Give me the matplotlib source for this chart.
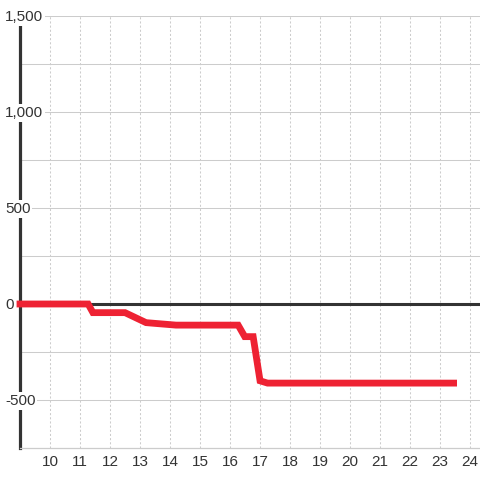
import matplotlib
matplotlib.use("Agg")
from matplotlib import pyplot as plt
from matplotlib import transforms

plt.rcParams['font.family'] = ['Liberation Sans', 'DejaVu Sans']

# values
hours = [9.0, 11.27, 11.43, 12.5, 13.2, 13.5, 14.2, 16.27, 16.49, 16.77, 17.0, 17.25, 23.45]
values = [0, 0, -45, -45, -97, -101, -110, -110, -170, -170, -400, -412, -412]
x_ticks = list(range(10, 25))
y_ticks = [-500, 0, 500, 1000, 1500]
y_grid = [-500, -250, 250, 500, 750, 1000, 1250, 1500]

fig = plt.figure(figsize=(4.8, 4.8), dpi=100)
ax = fig.add_axes([20 / 480, 32 / 480, 460 / 480, 432 / 480])
ax.set_xlim(9.0, 24.33)
ax.set_ylim(-750, 1500)

# grid
for v in y_grid:
    ax.axhline(v, color='#cccccc', lw=0.75, zorder=1)
for v in x_ticks:
    ax.axvline(v, color='#cccccc', lw=0.75, ls=(0, (2, 2)), zorder=1)
ax.axhline(0, color='#333333', lw=2.2, zorder=2)

# spines
for s in ['top', 'right']:
    ax.spines[s].set_visible(False)
ax.spines['left'].set_color('#333333')
ax.spines['left'].set_linewidth(2.3)
ax.spines['left'].set_zorder(2.5)
ax.spines['bottom'].set_color('#cccccc')
ax.spines['bottom'].set_linewidth(0.9)

# data line
ax.plot(hours, values, color='#ee2233', lw=4.9, solid_joinstyle='miter',
        solid_capstyle='projecting', zorder=6, clip_on=False)

# ticks
ax.set_xticks(x_ticks)
ax.set_xticklabels([str(t) for t in x_ticks])
ax.tick_params(axis='x', length=0, pad=5, labelsize=11, labelcolor='#333333')
ax.set_yticks([])

# y labels sit over the spine with a white box
trans = transforms.blended_transform_factory(fig.transFigure, ax.transData)
offset = transforms.ScaledTranslation(0, -1 / 100, fig.dpi_scale_trans)
for v in y_ticks:
    ax.text(5 / 480, v, f"{v:,}", transform=trans + offset,
            ha='left', va='center', fontsize=11, color='#333333',
            bbox=dict(facecolor='white', edgecolor='none', pad=1.2),
            zorder=5, clip_on=False)

fig.savefig('out.png', dpi=100)
